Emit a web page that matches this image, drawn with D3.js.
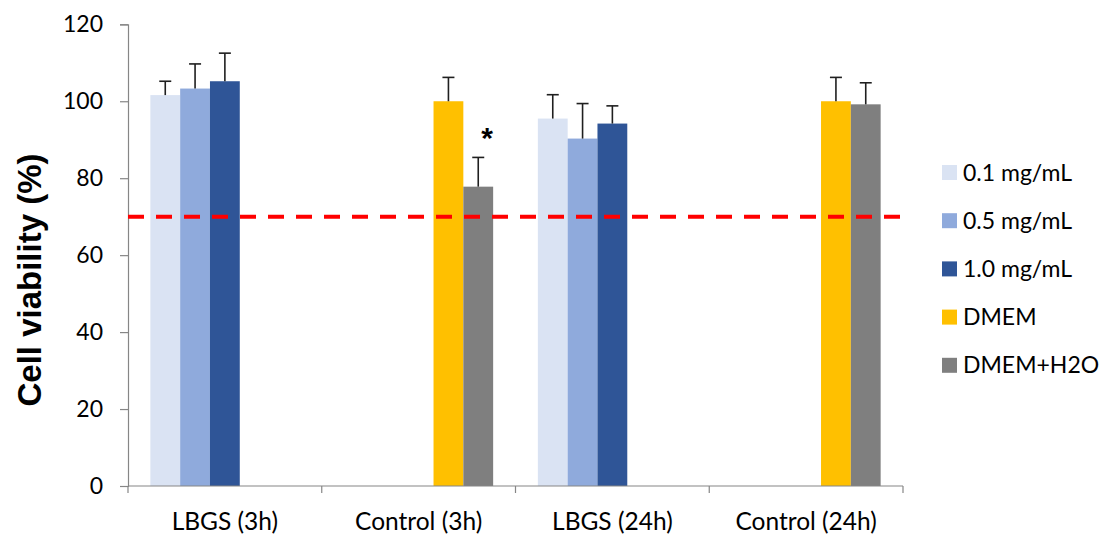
<!DOCTYPE html>
<html>
<head>
<meta charset="utf-8">
<script src="https://cdn.jsdelivr.net/npm/d3@7"></script>
<style>
  html, body { margin: 0; padding: 0; background: #fff; }
  svg { display: block; font-family: Lato, "Open Sans", sans-serif; }
</style>
</head>
<body>
<svg id="chart" width="1105" height="536"></svg>
<script>
// Cell viability by treatment group
const categories = ["LBGS (3h)", "Control (3h)", "LBGS (24h)", "Control (24h)"];
const seriesNames = ["0.1 mg/mL", "0.5 mg/mL", "1.0 mg/mL", "DMEM", "DMEM+H2O"];
const seriesColors = ["#dae3f3", "#8faadc", "#2f5597", "#ffc000", "#7f7f7f"];

// Mean viability (%) per series, one entry per category (null = not measured)
const v01 = [101.6, null, 95.5, null];
const v05 = [103.3, null, 90.3, null];
const v10 = [105.2, null, 94.2, null];
const vDMEM = [null, 100, null, 100];
const vH2O = [null, 77.8, null, 99.2];

// Standard deviations
const e01 = [3.6, null, 6.2, null];
const e05 = [6.4, null, 9.1, null];
const e10 = [7.3, null, 4.6, null];
const eDMEM = [null, 6.2, null, 6.2];
const eH2O = [null, 7.6, null, 5.6];

const yTicks = [0, 20, 40, 60, 80, 100, 120];
const threshold = 70;
// significance marker: [category, series]
const marks = [["Control (3h)", "DMEM+H2O"]];

const values = [v01, v05, v10, vDMEM, vH2O];
const errors = [e01, e05, e10, eDMEM, eH2O];

const svg = d3.select("#chart");
const plotLeft = 128, plotRight = 903, plotTop = 24.3, plotBottom = 486;

const x = d3.scaleBand().domain(categories).range([plotLeft, plotRight]).padding(0);
const gapFrac = 1.5 / (seriesNames.length + 1.5) / 2;
const xs = d3.scaleBand().domain(seriesNames)
  .range([x.bandwidth() * gapFrac, x.bandwidth() * (1 - gapFrac)]).padding(0);
const y = d3.scaleLinear().domain([0, 120]).range([plotBottom, plotTop]);

const axisColor = "#868686";

// bars
const rows = [];
seriesNames.forEach((s, i) => {
  categories.forEach((c, j) => {
    if (values[i][j] != null) rows.push({ c, s, v: values[i][j], e: errors[i][j], color: seriesColors[i] });
  });
});

svg.append("g").selectAll("rect").data(rows).join("rect")
  .attr("x", d => x(d.c) + xs(d.s))
  .attr("y", d => y(d.v))
  .attr("width", xs.bandwidth())
  .attr("height", d => y(0) - y(d.v))
  .attr("fill", d => d.color);

// error bars (upper only)
const eg = svg.append("g").attr("stroke", "#1f1f1f").attr("stroke-width", 1.6);
rows.forEach(d => {
  const cx = x(d.c) + xs(d.s) + xs.bandwidth() / 2;
  eg.append("line").attr("x1", cx).attr("x2", cx).attr("y1", y(d.v)).attr("y2", y(d.v + d.e));
  eg.append("line").attr("x1", cx - 6).attr("x2", cx + 6).attr("y1", y(d.v + d.e)).attr("y2", y(d.v + d.e));
});

// significance asterisks
marks.forEach(([c, s]) => {
  const i = seriesNames.indexOf(s), j = categories.indexOf(c);
  const cx = x(c) + xs(s) + xs.bandwidth();
  svg.append("text").attr("x", cx - 6).attr("y", y(values[i][j] + errors[i][j]) - 9)
    .attr("text-anchor", "middle").attr("font-size", 30).attr("font-weight", "bold")
    .attr("font-family", "'Liberation Sans', Arial, sans-serif")
    .attr("fill", "#000").text("*");
});

// y axis
const yAxis = svg.append("g").attr("transform", `translate(${plotLeft},0)`)
  .call(d3.axisLeft(y).tickValues(yTicks).tickSize(8).tickPadding(17).tickFormat(d3.format("d")));
yAxis.select(".domain").attr("stroke", axisColor).attr("stroke-width", 1.2);
yAxis.selectAll(".tick line").attr("stroke", axisColor).attr("stroke-width", 1.2);
yAxis.selectAll(".tick text").attr("font-size", 23).attr("fill", "#000")
  .attr("font-family", "Lato, sans-serif");

// x axis with tick marks at category boundaries
const xAxisG = svg.append("g");
xAxisG.append("line").attr("x1", plotLeft).attr("x2", plotRight).attr("y1", plotBottom).attr("y2", plotBottom)
  .attr("stroke", axisColor).attr("stroke-width", 1.2);
categories.concat([null]).forEach((c) => {
  const bx = c ? x(c) : plotRight;
  xAxisG.append("line").attr("x1", bx).attr("x2", bx).attr("y1", plotBottom).attr("y2", plotBottom + 7)
    .attr("stroke", axisColor).attr("stroke-width", 1.2);
});
xAxisG.selectAll("text.cat").data(categories).join("text").attr("class", "cat")
  .attr("x", d => x(d) + x.bandwidth() / 2).attr("y", 530)
  .attr("text-anchor", "middle").attr("font-size", 24.5).attr("fill", "#000").text(d => d);

// threshold line
svg.append("line").attr("x1", plotLeft).attr("x2", plotRight)
  .attr("y1", y(threshold)).attr("y2", y(threshold))
  .attr("stroke", "#ff0000").attr("stroke-width", 4).attr("stroke-dasharray", "16,12");

// y axis title
svg.append("text").attr("transform", `translate(41,280) rotate(-90)`)
  .attr("text-anchor", "middle").attr("font-size", 33).attr("font-weight", "bold")
  .attr("font-family", "'Liberation Sans', Arial, sans-serif")
  .attr("fill", "#000").text("Cell viability (%)");

// legend
const lg = svg.append("g").attr("transform", "translate(942,0)");
seriesNames.forEach((s, i) => {
  const cy = 172 + i * 48.2;
  lg.append("rect").attr("x", 0).attr("y", cy - 7).attr("width", 15).attr("height", 15).attr("fill", seriesColors[i]);
  lg.append("text").attr("x", 21).attr("y", cy + 8.5).attr("font-size", 23).attr("fill", "#000").text(s);
});
</script>
</body>
</html>
